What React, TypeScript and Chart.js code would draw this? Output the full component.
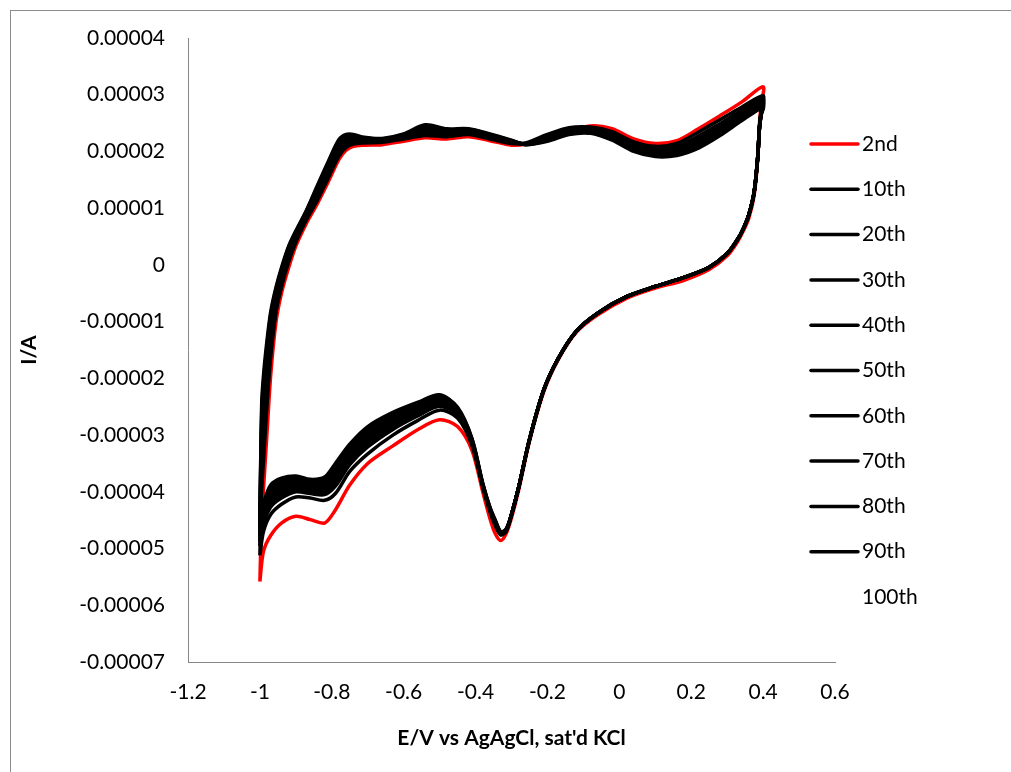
import { useEffect, useRef } from "react";
import { Chart, registerables } from "chart.js";

Chart.register(...registerables);

// Potential (V vs Ag/AgCl): forward sweep -1.0 -> 0.4, then reverse sweep 0.4 -> -1.0
const potential = [
  -1.0, -0.995, -0.99, -0.98, -0.97, -0.955, -0.94, -0.92, -0.9, -0.87, -0.84, -0.81, -0.78, -0.76, -0.74, -0.71,
  -0.66, -0.6, -0.54, -0.48, -0.42, -0.36, -0.3, -0.26, -0.2, -0.14, -0.08, -0.02, 0.04, 0.1, 0.16, 0.22, 0.28,
  0.34, 0.4,
  0.395, 0.39, 0.385, 0.375, 0.36, 0.345, 0.33, 0.3, 0.25, 0.18, 0.1, 0.02, -0.06, -0.12, -0.17, -0.21, -0.25,
  -0.28, -0.3, -0.315, -0.33, -0.345, -0.36, -0.38, -0.41, -0.45, -0.5, -0.56, -0.63, -0.7, -0.75, -0.79, -0.82,
  -0.86, -0.9, -0.94, -0.97, -0.99, -1.0,
];

// Currents in units of 1e-5 A, one value per potential point
const cycle2 = [
  -5.58, -4.45, -3.95, -2.95, -1.95, -1.0, -0.5, -0.05, 0.33, 0.74, 1.08, 1.46, 1.86, 2.02, 2.09, 2.11, 2.12, 2.18,
  2.24, 2.22, 2.26, 2.19, 2.11, 2.13, 2.24, 2.35, 2.45, 2.4, 2.22, 2.14, 2.19, 2.4, 2.63, 2.87, 3.14,
  2.85, 2.5, 1.86, 1.22, 0.82, 0.6, 0.42, 0.16, -0.08, -0.27, -0.41, -0.59, -0.88, -1.19, -1.67, -2.23, -3.11,
  -3.97, -4.46, -4.74, -4.86, -4.74, -4.47, -4.0, -3.27, -2.85, -2.73, -2.9, -3.19, -3.5, -3.88, -4.32, -4.55,
  -4.49, -4.43, -4.55, -4.77, -5.05, -5.58,
];
const cycle10 = [
  -5.12, -3.95, -3.45, -2.45, -1.63, -0.83, -0.39, 0.05, 0.4, 0.8, 1.14, 1.53, 1.92, 2.07, 2.13, 2.15, 2.16, 2.22,
  2.28, 2.26, 2.3, 2.22, 2.14, 2.15, 2.3, 2.42, 2.43, 2.35, 2.17, 2.09, 2.14, 2.34, 2.56, 2.78, 2.98,
  2.75, 2.45, 1.9, 1.28, 0.88, 0.64, 0.46, 0.2, -0.04, -0.22, -0.38, -0.56, -0.85, -1.17, -1.65, -2.2, -3.08,
  -3.92, -4.4, -4.7, -4.76, -4.6, -4.35, -3.92, -3.18, -2.7, -2.56, -2.74, -3.0, -3.33, -3.64, -4.03, -4.15,
  -4.11, -4.09, -4.22, -4.4, -4.7, -5.12,
];
const cycle20 = [
  -4.96, -3.74, -3.24, -2.29, -1.52, -0.77, -0.34, 0.09, 0.43, 0.82, 1.18, 1.57, 1.96, 2.13, 2.17, 2.18, 2.18, 2.24,
  2.33, 2.3, 2.33, 2.24, 2.16, 2.14, 2.27, 2.39, 2.4, 2.31, 2.13, 2.05, 2.09, 2.27, 2.49, 2.72, 2.93,
  2.73, 2.44, 1.9, 1.28, 0.88, 0.64, 0.46, 0.2, -0.04, -0.22, -0.38, -0.56, -0.85, -1.17, -1.65, -2.2, -3.08,
  -3.92, -4.4, -4.69, -4.75, -4.58, -4.33, -3.9, -3.15, -2.65, -2.49, -2.66, -2.9, -3.21, -3.52, -3.9, -4.05,
  -4.03, -4.0, -4.11, -4.27, -4.58, -4.96,
];
const cycle30 = [
  -4.88, -3.53, -3.03, -2.13, -1.41, -0.71, -0.29, 0.13, 0.46, 0.85, 1.21, 1.61, 2.0, 2.16, 2.19, 2.19, 2.19, 2.25,
  2.35, 2.31, 2.34, 2.25, 2.16, 2.14, 2.26, 2.38, 2.39, 2.29, 2.11, 2.02, 2.06, 2.24, 2.46, 2.69, 2.91,
  2.71, 2.44, 1.9, 1.28, 0.88, 0.64, 0.46, 0.2, -0.04, -0.22, -0.38, -0.56, -0.85, -1.17, -1.65, -2.2, -3.08,
  -3.92, -4.4, -4.69, -4.74, -4.56, -4.32, -3.89, -3.14, -2.63, -2.46, -2.62, -2.85, -3.15, -3.46, -3.83, -4.0,
  -3.99, -3.95, -4.05, -4.21, -4.52, -4.88,
];
const cycle40 = [
  -4.81, -3.32, -2.82, -1.98, -1.29, -0.65, -0.25, 0.17, 0.48, 0.87, 1.25, 1.65, 2.04, 2.19, 2.21, 2.2, 2.19, 2.26,
  2.37, 2.33, 2.35, 2.26, 2.17, 2.14, 2.24, 2.36, 2.38, 2.28, 2.09, 2.0, 2.04, 2.21, 2.43, 2.66, 2.88,
  2.7, 2.44, 1.9, 1.28, 0.88, 0.64, 0.46, 0.2, -0.04, -0.22, -0.38, -0.56, -0.85, -1.17, -1.65, -2.2, -3.08,
  -3.92, -4.4, -4.68, -4.73, -4.55, -4.31, -3.89, -3.12, -2.61, -2.43, -2.59, -2.81, -3.1, -3.41, -3.78, -3.95,
  -3.95, -3.91, -4.0, -4.15, -4.46, -4.81,
];
const cycle50 = [
  -4.75, -3.11, -2.61, -1.82, -1.18, -0.58, -0.2, 0.21, 0.51, 0.9, 1.29, 1.69, 2.08, 2.21, 2.23, 2.21, 2.2, 2.27,
  2.39, 2.34, 2.36, 2.27, 2.17, 2.13, 2.23, 2.35, 2.37, 2.26, 2.07, 1.99, 2.02, 2.18, 2.4, 2.64, 2.86,
  2.69, 2.43, 1.9, 1.28, 0.88, 0.64, 0.46, 0.2, -0.04, -0.22, -0.38, -0.56, -0.85, -1.17, -1.65, -2.2, -3.08,
  -3.92, -4.4, -4.68, -4.73, -4.54, -4.3, -3.88, -3.11, -2.59, -2.4, -2.55, -2.77, -3.05, -3.36, -3.72, -3.91,
  -3.92, -3.88, -3.95, -4.1, -4.41, -4.75,
];
const cycle60 = [
  -4.68, -2.9, -2.4, -1.66, -1.07, -0.52, -0.15, 0.25, 0.54, 0.92, 1.32, 1.73, 2.12, 2.23, 2.25, 2.22, 2.21, 2.28,
  2.41, 2.36, 2.37, 2.28, 2.18, 2.13, 2.22, 2.34, 2.36, 2.25, 2.05, 1.97, 2.0, 2.15, 2.37, 2.62, 2.84,
  2.68, 2.43, 1.9, 1.28, 0.88, 0.64, 0.46, 0.2, -0.04, -0.22, -0.38, -0.56, -0.85, -1.17, -1.65, -2.2, -3.08,
  -3.92, -4.4, -4.67, -4.72, -4.53, -4.3, -3.87, -3.1, -2.57, -2.38, -2.52, -2.73, -3.0, -3.31, -3.67, -3.87,
  -3.89, -3.84, -3.91, -4.05, -4.36, -4.68,
];
const cycle70 = [
  -4.62, -2.72, -2.22, -1.52, -0.97, -0.47, -0.11, 0.28, 0.56, 0.94, 1.35, 1.77, 2.16, 2.26, 2.26, 2.23, 2.21, 2.29,
  2.43, 2.37, 2.38, 2.29, 2.19, 2.13, 2.21, 2.33, 2.34, 2.23, 2.04, 1.95, 1.98, 2.12, 2.34, 2.59, 2.82,
  2.67, 2.43, 1.9, 1.28, 0.88, 0.64, 0.46, 0.2, -0.04, -0.22, -0.38, -0.56, -0.85, -1.17, -1.65, -2.2, -3.08,
  -3.92, -4.4, -4.67, -4.71, -4.52, -4.29, -3.87, -3.09, -2.55, -2.35, -2.49, -2.69, -2.96, -3.27, -3.62, -3.83,
  -3.85, -3.8, -3.86, -3.99, -4.31, -4.62,
];
const cycle80 = [
  -4.55, -2.57, -2.07, -1.41, -0.89, -0.43, -0.08, 0.31, 0.58, 0.96, 1.38, 1.8, 2.19, 2.28, 2.28, 2.24, 2.22, 2.3,
  2.45, 2.38, 2.39, 2.3, 2.19, 2.12, 2.19, 2.31, 2.33, 2.22, 2.02, 1.93, 1.95, 2.09, 2.31, 2.57, 2.8,
  2.66, 2.42, 1.9, 1.28, 0.88, 0.64, 0.46, 0.2, -0.04, -0.22, -0.38, -0.56, -0.85, -1.17, -1.65, -2.2, -3.08,
  -3.92, -4.4, -4.66, -4.71, -4.51, -4.28, -3.86, -3.07, -2.53, -2.32, -2.46, -2.64, -2.9, -3.21, -3.56, -3.79,
  -3.82, -3.76, -3.81, -3.94, -4.26, -4.55,
];
const cycle90 = [
  -4.48, -2.45, -1.95, -1.32, -0.83, -0.39, -0.05, 0.33, 0.6, 0.97, 1.4, 1.82, 2.21, 2.3, 2.3, 2.25, 2.23, 2.31,
  2.47, 2.4, 2.4, 2.31, 2.2, 2.12, 2.18, 2.3, 2.32, 2.2, 2.0, 1.91, 1.93, 2.06, 2.28, 2.54, 2.78,
  2.65, 2.42, 1.9, 1.28, 0.88, 0.64, 0.46, 0.2, -0.04, -0.22, -0.38, -0.56, -0.85, -1.17, -1.65, -2.2, -3.08,
  -3.92, -4.4, -4.66, -4.7, -4.5, -4.27, -3.85, -3.06, -2.51, -2.29, -2.42, -2.6, -2.85, -3.16, -3.5, -3.74,
  -3.78, -3.72, -3.76, -3.88, -4.2, -4.48,
];
const cycle100 = [
  -4.45, -2.42, -1.92, -1.3, -0.81, -0.37, -0.03, 0.34, 0.61, 0.98, 1.41, 1.83, 2.22, 2.31, 2.31, 2.26, 2.24, 2.32,
  2.48, 2.41, 2.41, 2.32, 2.2, 2.12, 2.17, 2.29, 2.31, 2.19, 1.99, 1.9, 1.92, 2.05, 2.27, 2.53, 2.77,
  2.65, 2.42, 1.9, 1.28, 0.88, 0.64, 0.46, 0.2, -0.04, -0.22, -0.38, -0.56, -0.85, -1.17, -1.65, -2.2, -3.08,
  -3.92, -4.4, -4.66, -4.7, -4.49, -4.26, -3.84, -3.05, -2.5, -2.28, -2.41, -2.59, -2.84, -3.14, -3.48, -3.72,
  -3.76, -3.7, -3.74, -3.86, -4.18, -4.45,
];

const seriesLabels = ["2nd", "10th", "20th", "30th", "40th", "50th", "60th", "70th", "80th", "90th", "100th"];
const seriesColors = [
  "#FF0000", "#000000", "#000000", "#000000", "#000000", "#000000",
  "#000000", "#000000", "#000000", "#000000", "#FFFFFF",
];

const xTitle = "E/V vs AgAgCl, sat'd KCl";
const yTitle = "I/A";

const FONT = "Lato";

const framePlugin = {
  id: "frame",
  beforeDraw(chart: any) {
    const { ctx, width, height } = chart;
    ctx.save();
    ctx.fillStyle = "#FFFFFF";
    ctx.fillRect(0, 0, width, height);
    ctx.strokeStyle = "#8C8C8C";
    ctx.lineWidth = 1;
    ctx.strokeRect(10.5, 10.5, width + 20, height + 20);
    ctx.restore();
  },
};

const legendPlugin = {
  id: "sideLegend",
  afterDraw(chart: any) {
    const { ctx } = chart;
    ctx.save();
    chart.data.datasets.forEach((ds: any, i: number) => {
      const y = 144 + i * 45.3;
      ctx.strokeStyle = ds.borderColor;
      ctx.lineWidth = 3.5;
      ctx.lineCap = "round";
      ctx.beginPath();
      ctx.moveTo(811, y);
      ctx.lineTo(858, y);
      ctx.stroke();
      ctx.fillStyle = "#000000";
      ctx.font = `21px ${FONT}`;
      ctx.textAlign = "left";
      ctx.textBaseline = "middle";
      ctx.fillText(ds.label, 862, y);
    });
    ctx.restore();
  },
};

export default function App() {
  const ref = useRef<HTMLCanvasElement>(null);

  useEffect(() => {
    if (!ref.current) return;
    const cycles = [cycle2, cycle10, cycle20, cycle30, cycle40, cycle50, cycle60, cycle70, cycle80, cycle90, cycle100];
    const datasets = cycles.map((c, k) => ({
      label: seriesLabels[k],
      data: potential.map((e, i) => ({ x: e, y: c[i] * 1e-5 })),
      borderColor: seriesColors[k],
      backgroundColor: seriesColors[k],
      borderWidth: 3.5,
      pointRadius: 0,
      pointHoverRadius: 0,
      showLine: true,
      tension: 0.3,
      fill: false,
      order: k === 10 ? 11 : 10 - k,
    }));

    const chart = new Chart(ref.current, {
      type: "scatter",
      data: { datasets },
      options: {
        responsive: false,
        animation: false,
        layout: { padding: { top: 38, right: 176, bottom: 0, left: 0 } },
        plugins: { legend: { display: false }, tooltip: { enabled: false } },
        font: { family: FONT },
        scales: {
          x: {
            type: "linear",
            min: -1.2,
            max: 0.6,
            ticks: {
              stepSize: 0.2,
              padding: 18,
              color: "#000000",
              font: { family: FONT, size: 21 },
              maxRotation: 0,
              autoSkip: false,
              callback: (v: any) => {
                const n = Math.round(Number(v) * 10) / 10;
                return Math.abs(n) < 1e-9 ? "0" : String(n);
              },
            },
            grid: { display: false, drawTicks: false },
            border: { display: true, color: "#868686", width: 1 },
            title: {
              display: true,
              text: xTitle,
              color: "#000000",
              font: { family: FONT, size: 21, weight: "bold" },
              padding: { top: 0, bottom: 21 },
            },
            afterFit: (s: any) => {
              s.height = 110;
            },
          },
          y: {
            type: "linear",
            min: -7e-5,
            max: 4e-5,
            ticks: {
              stepSize: 1e-5,
              padding: 23,
              color: "#000000",
              font: { family: FONT, size: 21 },
              autoSkip: false,
              callback: (v: any) => {
                const n = Number(v);
                if (Math.abs(n) < 1e-9) return "0";
                return n.toFixed(5);
              },
            },
            grid: { display: false, drawTicks: false },
            border: { display: true, color: "#868686", width: 1 },
            title: {
              display: true,
              text: yTitle,
              color: "#000000",
              font: { family: FONT, size: 21, weight: "bold" },
              padding: { top: 17, bottom: 0 },
            },
            afterFit: (s: any) => {
              s.width = 188;
            },
          },
        },
      } as any,
      plugins: [framePlugin, legendPlugin],
    });
    return () => chart.destroy();
  }, []);

  return (
    <div style={{ position: "fixed", left: 0, top: 0, width: 1011, height: 772, background: "#FFFFFF" }}>
      <canvas ref={ref} width={1011} height={772} style={{ width: 1011, height: 772, display: "block" }} />
    </div>
  );
}
